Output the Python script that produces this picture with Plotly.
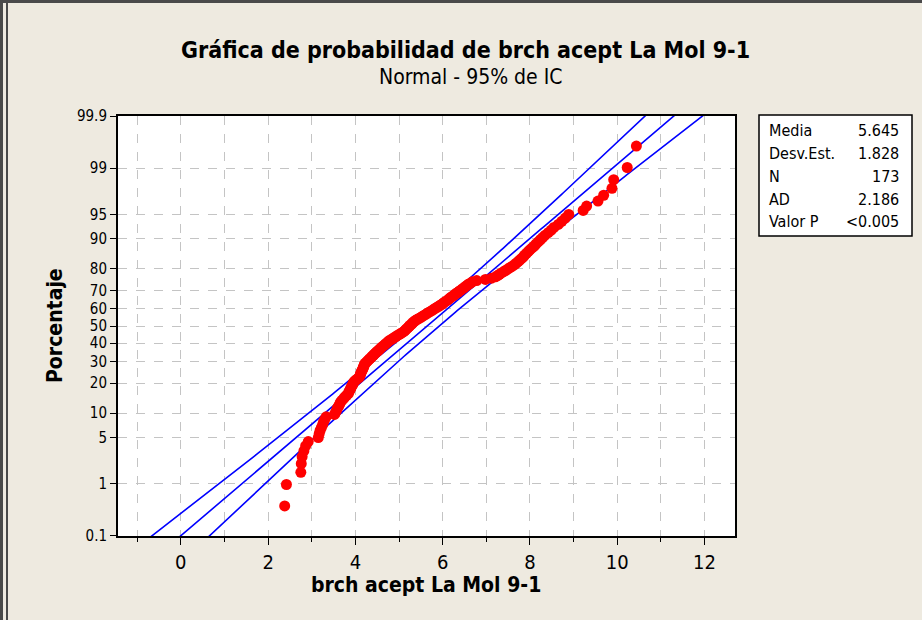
import numpy as np
import plotly.graph_objects as go
from statistics import NormalDist

# ---------------- data ----------------
valores = [
    2.38, 2.42, 2.75, 2.76, 2.78, 2.82, 2.86, 2.92,
    3.15, 3.17, 3.19, 3.22, 3.25, 3.27, 3.30, 3.33,
    3.52, 3.55, 3.57, 3.59, 3.62, 3.64, 3.66, 3.69,
    3.73, 3.76, 3.80, 3.84, 3.85, 3.87, 3.89, 3.90,
    3.92, 3.94, 3.95, 3.97, 4.00, 4.04, 4.08, 4.10,
    4.11, 4.12, 4.13, 4.14, 4.16, 4.17, 4.18, 4.19,
    4.20, 4.21, 4.23, 4.26, 4.28, 4.31, 4.33, 4.36,
    4.38, 4.41, 4.43, 4.46, 4.48, 4.51, 4.54, 4.56,
    4.59, 4.61, 4.64, 4.67, 4.69, 4.72, 4.75, 4.77,
    4.81, 4.85, 4.88, 4.92, 4.95, 4.99, 5.03, 5.06,
    5.10, 5.13, 5.15, 5.17, 5.20, 5.22, 5.24, 5.26,
    5.29, 5.31, 5.33, 5.36, 5.39, 5.43, 5.47, 5.51,
    5.54, 5.58, 5.62, 5.65, 5.69, 5.73, 5.77, 5.80,
    5.84, 5.88, 5.92, 5.95, 5.99, 6.02, 6.05, 6.09,
    6.12, 6.15, 6.18, 6.21, 6.25, 6.28, 6.31, 6.35,
    6.38, 6.42, 6.45, 6.49, 6.52, 6.56, 6.59, 6.64,
    6.68, 6.78, 6.98, 7.12, 7.21, 7.26, 7.30, 7.35,
    7.40, 7.45, 7.50, 7.55, 7.60, 7.65, 7.69, 7.73,
    7.77, 7.81, 7.85, 7.88, 7.92, 7.96, 8.00, 8.05,
    8.10, 8.14, 8.19, 8.24, 8.29, 8.35, 8.42, 8.49,
    8.55, 8.65, 8.73, 8.81, 8.89, 9.22, 9.30, 9.56,
    9.69, 9.88, 9.92, 10.23, 10.44,
]

media = 5.645
desv_est = 1.828
n_obs = 173

stat_labels = ["Media", "Desv.Est.", "N", "AD", "Valor P"]
stat_values = ["5.645", "1.828", "173", "2.186", "<0.005"]

pct_ticks = [0.1, 1, 5, 10, 20, 30, 40, 50, 60, 70, 80, 90, 95, 99, 99.9]
pct_labels = ["0.1", "1", "5", "10", "20", "30", "40", "50", "60", "70", "80", "90", "95", "99", "99.9"]
x_ticks = [0, 2, 4, 6, 8, 10, 12]

titulo = "Gráfica de probabilidad de brch acept La Mol 9-1"
subtitulo = "Normal - 95% de IC"
xlabel = "brch acept La Mol 9-1"
ylabel = "Porcentaje"

# ---------------- derived ----------------
nd = NormalDist()
xs = sorted(valores)
n = len(xs)
pct = [(i - 0.3) / (n + 0.4) for i in range(1, n + 1)]  # median ranks
zpts = [nd.inv_cdf(p) for p in pct]

zz = np.linspace(-3.6, 3.6, 300)
xfit = media + desv_est * zz
se = desv_est * np.sqrt((1 + zz ** 2 / 2) / n_obs)
lo = xfit - 1.96 * se
hi = xfit + 1.96 * se

ytickvals = [nd.inv_cdf(p / 100) for p in pct_ticks]
zmin, zmax = nd.inv_cdf(0.001), nd.inv_cdf(0.999)

W, H = 922, 620
L, R, T, B = 118, 735, 116, 536

def px(xp):
    return (xp - L) / (R - L)

def py(yp):
    return (B - yp) / (B - T)

FONT = "'Liberation Sans Narrow', 'DejaVu Sans Condensed', 'Roboto Condensed', 'Noto Sans'"
BG = "#EEEAE0"

fig = go.Figure()
for arr in (lo, xfit, hi):
    fig.add_trace(go.Scatter(x=arr, y=zz, mode="lines",
                             line=dict(color="#0000FF", width=1.6),
                             hoverinfo="skip", showlegend=False))
fig.add_trace(go.Scatter(x=xs, y=zpts, mode="markers",
                         marker=dict(color="#FF0000", size=11, line=dict(width=0)),
                         showlegend=False))

fig.update_xaxes(
    range=[-1.44, 12.70], tickvals=x_ticks, ticktext=[str(v) for v in x_ticks],
    ticks="outside", ticklen=7, tickwidth=1, tickcolor="black",
    showline=True, linecolor="black", linewidth=2, mirror=True,
    showgrid=True, gridcolor="#C4C4C4", griddash="dash", gridwidth=1,
    minor=dict(dtick=1, tick0=0, ticks="outside", ticklen=4, tickcolor="black",
               showgrid=True, gridcolor="#C4C4C4", griddash="dash", gridwidth=1),
    zeroline=False, tickfont=dict(family=FONT, size=20, color="black"),
)
fig.update_yaxes(
    range=[zmin - 0.002, zmax + 0.002], tickvals=ytickvals, ticktext=pct_labels,
    ticks="outside", ticklen=6, tickcolor="black",
    showline=True, linecolor="black", linewidth=2, mirror=True,
    showgrid=True, gridcolor="#C4C4C4", griddash="dash", gridwidth=1,
    zeroline=False, tickfont=dict(family=FONT, size=15, color="black"),
)

ann = [
    dict(text="<b>" + titulo + "</b>", x=px(465), y=py(50), font=dict(family=FONT, size=23, color="black")),
    dict(text=subtitulo, x=px(471), y=py(77), font=dict(family=FONT, size=21, color="black")),
    dict(text="<b>" + xlabel + "</b>", x=px(426), y=py(585), font=dict(family=FONT, size=21, color="black")),
    dict(text="<b>" + ylabel + "</b>", x=px(55), y=py(326), textangle=-90, font=dict(family=FONT, size=21, color="black")),
]
rows_y = [130, 153, 176, 199, 221]
for lab, val, yy in zip(stat_labels, stat_values, rows_y):
    ann.append(dict(text=lab, x=px(767), y=py(yy), xanchor="left", font=dict(family=FONT, size=16, color="black")))
    ann.append(dict(text=val, x=px(901), y=py(yy), xanchor="right", font=dict(family=FONT, size=16, color="black")))
for a in ann:
    a.setdefault("xanchor", "center")
    a.update(xref="paper", yref="paper", yanchor="middle", showarrow=False)
    fig.add_annotation(**a)

shapes = [
    dict(type="rect", x0=px(759), x1=px(912), y0=py(236), y1=py(115),
         line=dict(color="black", width=1.5), fillcolor="white", layer="below"),
    dict(type="line", x0=px(0), x1=px(W), y0=py(1.5), y1=py(1.5), line=dict(color="#4A4A4A", width=3)),
    dict(type="line", x0=px(1.5), x1=px(1.5), y0=py(0), y1=py(H), line=dict(color="#4A4A4A", width=3)),
    dict(type="line", x0=px(7), x1=px(7), y0=py(3), y1=py(H), line=dict(color="#4A4A4A", width=2)),
]
for s in shapes:
    s.update(xref="paper", yref="paper")
    fig.add_shape(**s)

fig.update_layout(
    width=W, height=H, autosize=False,
    margin=dict(l=L, r=W - R, t=T, b=H - B, pad=0),
    paper_bgcolor=BG, plot_bgcolor="white",
    font=dict(family=FONT, color="black"),
    showlegend=False,
)

fig.write_html("out.html", config={"displayModeBar": False},
               post_script="document.body.style.margin='0px';document.body.style.padding='0px';")
